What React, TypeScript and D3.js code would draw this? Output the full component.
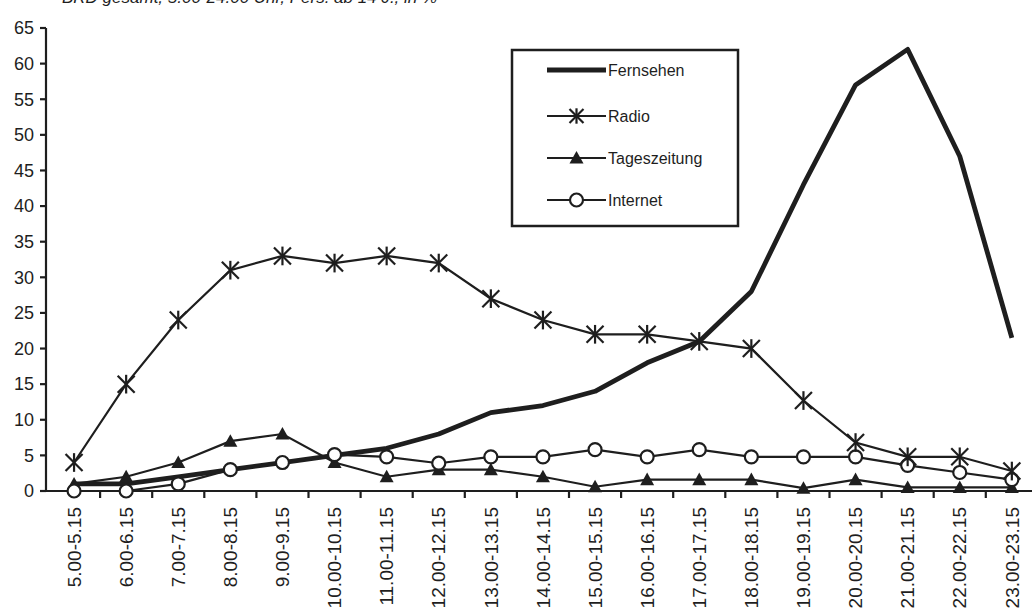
import React from 'react';
import * as d3 from 'd3';

const categories = [
  '5.00-5.15', '6.00-6.15', '7.00-7.15', '8.00-8.15', '9.00-9.15', '10.00-10.15',
  '11.00-11.15', '12.00-12.15', '13.00-13.15', '14.00-14.15', '15.00-15.15', '16.00-16.15',
  '17.00-17.15', '18.00-18.15', '19.00-19.15', '20.00-20.15', '21.00-21.15', '22.00-22.15',
  '23.00-23.15',
];

const fernsehen = [1, 1, 2, 3, 4, 5, 6, 8, 11, 12, 14, 18, 21, 28, 43, 57, 62, 47, 21.5];
const radio = [4, 15, 24, 31, 33, 32, 33, 32, 27, 24, 22, 22, 21, 20, 12.7, 6.8, 4.8, 4.8, 2.8];
const tageszeitung = [1, 2, 4, 7, 8, 4, 2, 3, 3, 2, 0.6, 1.6, 1.6, 1.6, 0.4, 1.6, 0.5, 0.5, 0.5];
const internet = [0, 0, 1, 3, 4, 5.1, 4.8, 3.9, 4.8, 4.8, 5.8, 4.8, 5.8, 4.8, 4.8, 4.8, 3.6, 2.6, 1.6];

const yTicks = [0, 5, 10, 15, 20, 25, 30, 35, 40, 45, 50, 55, 60, 65];
const titleText = 'BRD gesamt, 5.00-24.00 Uhr, Pers. ab 14 J., in %';
const legendLabels = ['Fernsehen', 'Radio', 'Tageszeitung', 'Internet'];

const W = 1032;
const H = 614;
const font = '"Liberation Sans", Arial, sans-serif';
const ink = '#1e1e1e';

const Star = ({ x, y, s = 8.5 }: { x: number; y: number; s?: number }) => (
  <g stroke={ink} strokeWidth={2.2} transform={`translate(${x},${y})`}>
    <line x1={-s} y1={-s} x2={s} y2={s} />
    <line x1={-s} y1={s} x2={s} y2={-s} />
    <line x1={0} y1={-s * 1.1} x2={0} y2={s * 1.1} />
  </g>
);

const Tri = ({ x, y, s = 7 }: { x: number; y: number; s?: number }) => (
  <path d={`M${x},${y - s}L${x + s},${y + s * 0.8}L${x - s},${y + s * 0.8}Z`} fill={ink} />
);

const Circ = ({ x, y }: { x: number; y: number }) => (
  <circle cx={x} cy={y} r={6.5} fill="#fff" stroke={ink} strokeWidth={2.2} />
);

export default function App() {
  const step = 52.1;
  const x0 = 48;
  const x = d3.scaleBand<string>().domain(categories).range([x0, x0 + step * categories.length]);
  const y = d3.scaleLinear().domain([0, 65]).range([491, 28]);
  const cx = (i: number) => (x(categories[i]) ?? 0) + x.bandwidth() / 2;

  const line = d3.line<number>().x((_, i) => cx(i)).y((d) => y(d));

  const legendY = [70, 116, 158, 200];
  const lx1 = 547;
  const lx2 = 606;
  const lm = (lx1 + lx2) / 2;

  return (
    <svg width={W} height={H} style={{ position: 'absolute', left: 0, top: 0, background: '#fff' }}
      fontFamily={font}>
      <rect width={W} height={H} fill="#fff" />
      <text x={62} y={3} fontSize={17} fontStyle="italic" fill={ink}>{titleText}</text>

      {/* y axis */}
      <line x1={46} x2={46} y1={y(65)} y2={y(0)} stroke={ink} strokeWidth={2.2} />
      {yTicks.map((t) => (
        <g key={t}>
          <line x1={40} x2={46} y1={y(t)} y2={y(t)} stroke={ink} strokeWidth={2.2} />
          <text x={34} y={y(t)} dy="0.35em" textAnchor="end" fontSize={18} fill={ink}>{t}</text>
        </g>
      ))}

      {/* x axis */}
      <line x1={40} x2={W} y1={y(0)} y2={y(0)} stroke={ink} strokeWidth={2.2} />
      {categories.map((c, i) => (
        <g key={c}>
          <line x1={x0 + step * (i + 1)} x2={x0 + step * (i + 1)} y1={y(0)} y2={y(0) + 7} stroke={ink} strokeWidth={2.2} />
          <text transform={`translate(${cx(i)},${507}) rotate(-90)`} dy="0.35em" textAnchor="end" fontSize={19} fill={ink}>{c}</text>
        </g>
      ))}

      {/* series */}
      <path d={line(internet) ?? ''} fill="none" stroke={ink} strokeWidth={2.2} />
      <path d={line(tageszeitung) ?? ''} fill="none" stroke={ink} strokeWidth={2.2} />
      <path d={line(radio) ?? ''} fill="none" stroke={ink} strokeWidth={2.2} />
      <path d={line(fernsehen) ?? ''} fill="none" stroke={ink} strokeWidth={4.8} strokeLinejoin="round" />
      {tageszeitung.map((v, i) => <Tri key={'t' + i} x={cx(i)} y={y(v)} />)}
      {internet.map((v, i) => <Circ key={'c' + i} x={cx(i)} y={y(v)} />)}
      {radio.map((v, i) => <Star key={'s' + i} x={cx(i)} y={y(v)} />)}

      {/* legend */}
      <rect x={512} y={50} width={226} height={176} fill="#fff" stroke={ink} strokeWidth={2.5} />
      <line x1={lx1} x2={lx2} y1={legendY[0]} y2={legendY[0]} stroke={ink} strokeWidth={5} />
      {legendY.slice(1).map((ly) => (
        <line key={ly} x1={lx1} x2={lx2} y1={ly} y2={ly} stroke={ink} strokeWidth={2.2} />
      ))}
      <Star x={lm} y={legendY[1]} s={7} />
      <Tri x={lm} y={legendY[2]} />
      <Circ x={lm} y={legendY[3]} />
      {legendLabels.map((l, i) => (
        <text key={l} x={lx2 + 2} y={legendY[i]} dy="0.35em" fontSize={16} fill={ink}>{l}</text>
      ))}
    </svg>
  );
}
